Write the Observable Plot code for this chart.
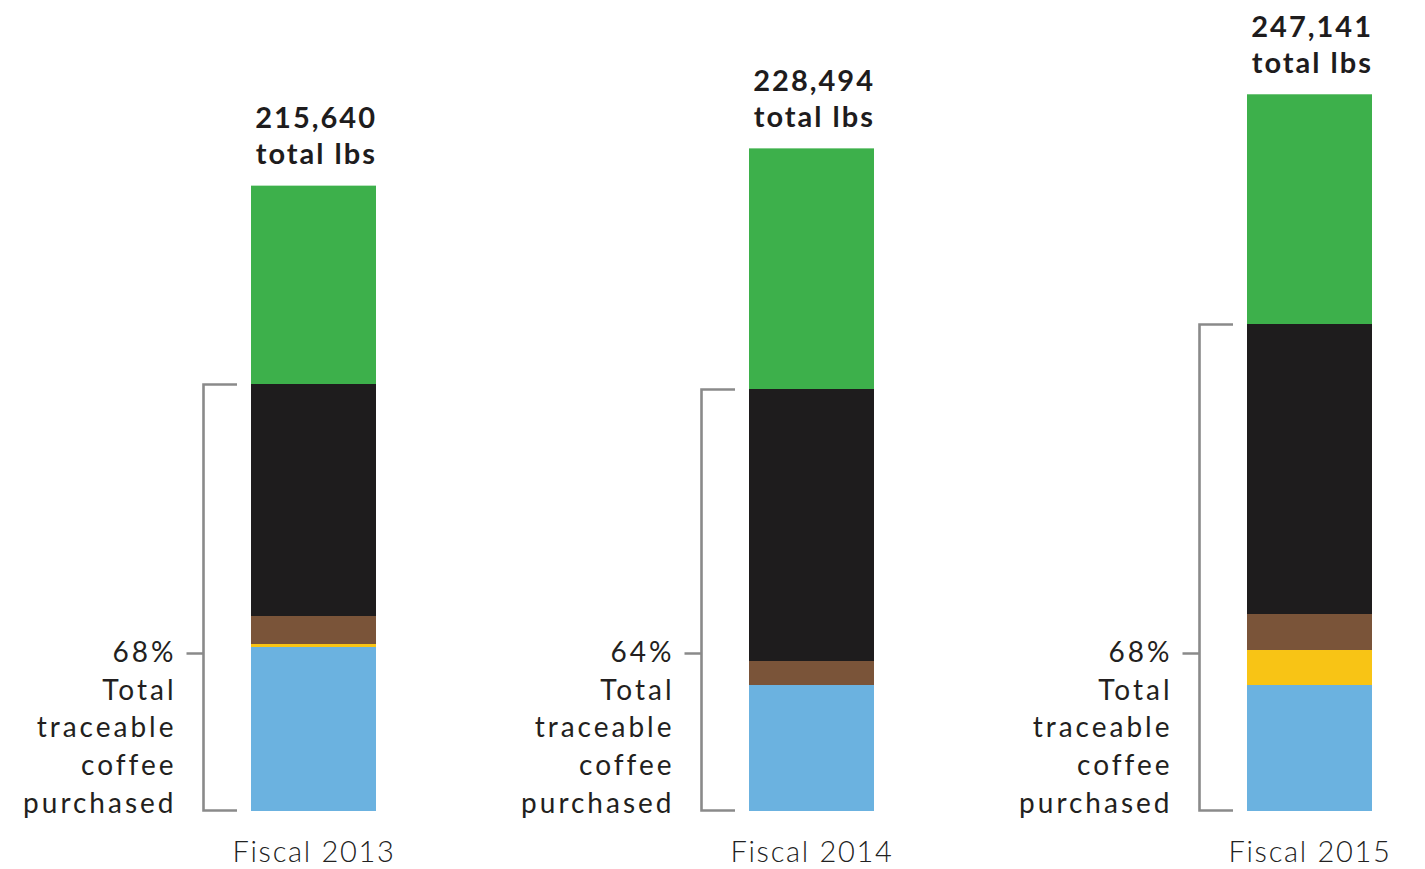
<!DOCTYPE html>
<html>
<head>
<meta charset="utf-8">
<script src="https://cdn.jsdelivr.net/npm/d3@7"></script>
<script src="https://cdn.jsdelivr.net/npm/@observablehq/plot@0.6"></script>
<style>
  html, body { margin: 0; padding: 0; background: #fff; }
  #chart { width: 1425px; height: 869px; }
</style>
</head>
<body>
<div id="chart"></div>
<script>
const years = ["Fiscal 2013", "Fiscal 2014", "Fiscal 2015"];
const totalLabels = ["215,640\ntotal lbs", "228,494\ntotal lbs", "247,141\ntotal lbs"];
const totals = [215640, 228494, 247141];
const traceableLabels = ["68%\nTotal\ntraceable\ncoffee\npurchased", "64%\nTotal\ntraceable\ncoffee\npurchased", "68%\nTotal\ntraceable\ncoffee\npurchased"];
const segmentNames = ["Segment A", "Segment B", "Segment C", "Segment D", "Segment E"];
const segmentColors = ["#6bb2e0", "#f8c415", "#7a5439", "#1e1c1d", "#3db04b"];
const segmentAValues = [56552, 43448, 43448];
const segmentBValues = [1034, 0, 12069];
const segmentCValues = [9655, 8276, 12414];
const segmentDValues = [80000, 93793, 100000];
const segmentEValues = [68399, 82977, 79210];
const traceableSegments = ["Segment A", "Segment B", "Segment C", "Segment D"];

const seriesByName = {
  "Segment A": segmentAValues,
  "Segment B": segmentBValues,
  "Segment C": segmentCValues,
  "Segment D": segmentDValues,
  "Segment E": segmentEValues
};
const rows = [];
years.forEach((year, i) => {
  segmentNames.forEach(name => rows.push({year, segment: name, value: seriesByName[name][i]}));
});
const yearRows = years.map((year, i) => ({
  year,
  total: totals[i],
  totalLabel: totalLabels[i],
  traceLabel: traceableLabels[i],
  traceable: d3.sum(traceableSegments, n => seriesByName[n][i])
}));

const font = "Lato, 'Open Sans', sans-serif";

function brackets(index, scales, values, dimensions) {
  const x = scales.x, y = scales.y;
  const g = d3.create("svg:g");
  yearRows.forEach(d => {
    const x0 = x(d.year);
    const xv = x0 - 47.5;
    const xe = x0 - 14;
    const yTop = y(d.traceable) + 0.5;
    const yBot = y(0) - 0.5;
    const yTick = y(0) - 157.5;
    g.append("path")
      .attr("d", `M${xe},${yTop}H${xv}V${yBot}H${xe}M${xv},${yTick}H${xv - 17}`)
      .attr("fill", "none")
      .attr("stroke", "#8a8a8a")
      .attr("stroke-width", 2.6);
  });
  return g.node();
}

const chart = Plot.plot({
  width: 1425,
  height: 869,
  marginLeft: 251,
  marginRight: 53,
  marginTop: 0,
  marginBottom: 58,
  style: {fontFamily: font, fontSize: "29px", color: "#222", background: "#fff", fontWeight: 300},
  x: {domain: years, type: "band", paddingInner: 0.749, paddingOuter: 0, align: 0.5, axis: "bottom", tickSize: 0, tickPadding: 30, label: null},
  y: {domain: [0, 279655], axis: null},
  color: {domain: segmentNames, range: segmentColors},
  marks: [
    Plot.barY(rows, Plot.stackY({x: "year", y: "value", fill: "segment", order: segmentNames})),
    brackets,
    Plot.text(yearRows, {
      x: "year", y: "total", text: "totalLabel",
      textAnchor: "end", lineAnchor: "bottom", dx: 63, dy: -22,
      fontWeight: 700, fontSize: 29, lineHeight: 1.25, fill: "#1e1c1d"
    }),
    Plot.text(yearRows, {
      x: "year", y: () => 0, text: "traceLabel",
      textAnchor: "end", lineAnchor: "bottom", dx: -137.5, dy: 1,
      fontWeight: 400, fontSize: 28, lineHeight: 1.34, fill: "#231f20"
    })
  ]
});
document.getElementById("chart").appendChild(chart);
const svg = d3.select(chart.tagName.toLowerCase() === "svg" ? chart : chart.querySelector("svg"));
svg.selectAll("text").style("letter-spacing", "1.7px");
svg.selectAll('g[font-weight="700"] text').style("letter-spacing", "2px");
svg.selectAll('g[font-size="28"] text').style("letter-spacing", "3px");
</script>
</body>
</html>
